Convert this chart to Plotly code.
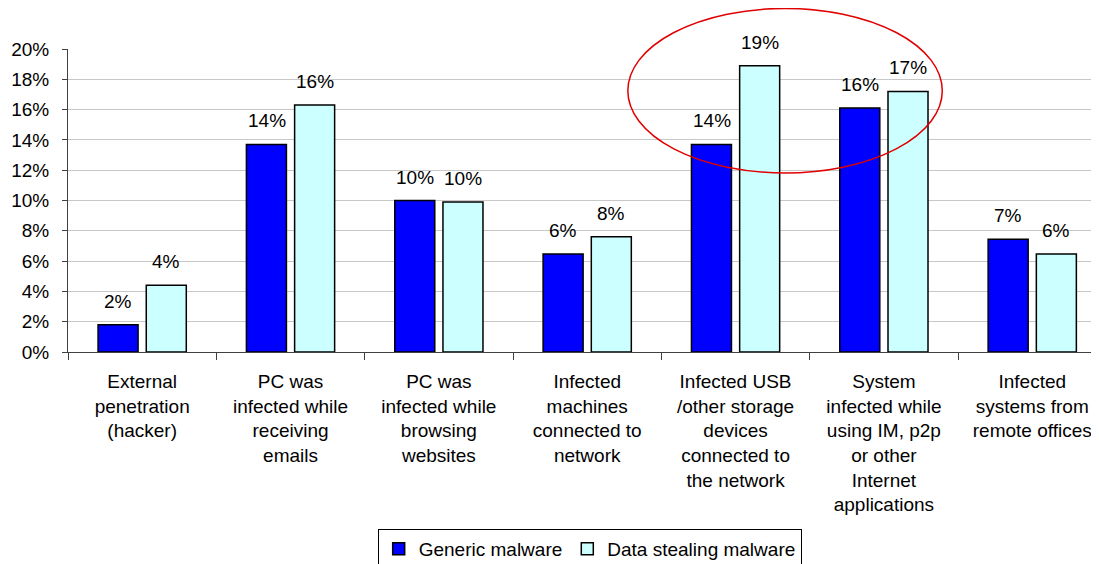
import plotly.graph_objects as go

categories = [
    "External<br>penetration<br>(hacker)",
    "PC was<br>infected while<br>receiving<br>emails",
    "PC was<br>infected while<br>browsing<br>websites",
    "Infected<br>machines<br>connected to<br>network",
    "Infected USB<br>/other storage<br>devices<br>connected to<br>the network",
    "System<br>infected while<br>using IM, p2p<br>or other<br>Internet<br>applications",
    "Infected<br>systems from<br>remote offices",
]
generic_malware = [0.018, 0.137, 0.100, 0.0647, 0.137, 0.161, 0.0745]
data_stealing_malware = [0.044, 0.163, 0.099, 0.076, 0.189, 0.172, 0.0647]
series_names = ["Generic malware", "Data stealing malware"]

FONT = "Liberation Sans, Arial, sans-serif"

fig = go.Figure()
fig.add_trace(go.Bar(
    x=categories, y=generic_malware, name=series_names[0],
    marker=dict(color="#0000FF", line=dict(color="#000000", width=1.5)),
))
fig.add_trace(go.Bar(
    x=categories, y=data_stealing_malware, name=series_names[1],
    marker=dict(color="#CCFFFF", line=dict(color="#000000", width=1.5)),
))

# value labels above each bar (offset to the grouped bar centres)
for series, shift in ((generic_malware, -24), (data_stealing_malware, 24)):
    for cat, val in zip(categories, series):
        fig.add_annotation(
            x=cat, y=val, xref="x", yref="y", text=f"{val:.0%}",
            showarrow=False, xanchor="center", yanchor="bottom",
            xshift=shift, yshift=11,
            font=dict(size=19, color="#000000", family=FONT),
        )

fig.update_layout(
    width=1099, height=564,
    margin=dict(l=60, r=8, t=41, b=220, autoexpand=False),
    paper_bgcolor="white", plot_bgcolor="white",
    font=dict(family=FONT, size=19, color="#000000"),
    barmode="group", bargap=0.35, bargroupgap=0.17,
    showlegend=True,
    legend=dict(
        orientation="h", x=0.506, xanchor="center",
        yref="container", y=0.0762, yanchor="top",
        bordercolor="#000000", borderwidth=1, bgcolor="white",
        font=dict(size=19, family=FONT), itemwidth=30, tracegroupgap=0,
    ),
)
fig.update_xaxes(
    range=[-0.5, 6.45], showline=True, linecolor="#404040", linewidth=1,
    ticks="outside", tickson="boundaries", ticklen=7, tickcolor="#404040",
    showgrid=False, tickfont=dict(size=19, family=FONT), tickangle=0,
    automargin=False, ticklabelstandoff=12,
)
fig.update_yaxes(
    range=[0, 0.2], dtick=0.02, tickformat=".0%",
    showline=True, linecolor="#404040", linewidth=1,
    ticks="outside", ticklen=5, tickcolor="#404040",
    showgrid=True, gridcolor="#C8C8C8", gridwidth=1,
    zeroline=False, tickfont=dict(size=19, family=FONT),
    automargin=False, ticklabelstandoff=9,
)

fig.add_shape(
    type="circle", xref="paper", yref="paper",
    x0=0.543, x1=0.848, y0=0.591, y1=1.134,
    line=dict(color="#E00000", width=1.5), fillcolor="rgba(0,0,0,0)", layer="above",
)

fig.write_html("out.html")
